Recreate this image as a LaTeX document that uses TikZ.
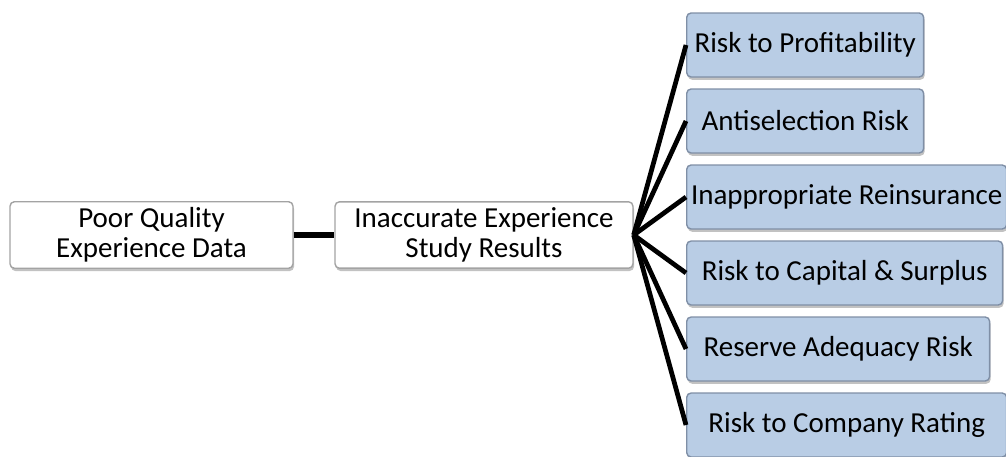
\documentclass[tikz,border=0pt]{standalone}
\usepackage{fontspec}
\setmainfont{Carlito}
\usepackage{tikz}
\usetikzlibrary{shadows,positioning}
\definecolor{BoxGray}{HTML}{A3A3A3}
\definecolor{RiskBlue}{HTML}{B9CDE5}
\definecolor{RiskEdge}{HTML}{7F8FA6}

\begin{document}
\begin{tikzpicture}[
      x=0.02cm, y=-0.02cm,
      font=\fontsize{16.5pt}{17.1pt}\selectfont,
      cause/.style={draw=BoxGray,fill=white,line width=0.8pt,rounded corners=2.5pt,
        minimum height=1.31cm,align=center,inner xsep=2pt,
        drop shadow={shadow xshift=0.6pt,shadow yshift=-1.6pt,opacity=0.4,fill=black!60}},
      risk/.style={draw=RiskEdge,fill=RiskBlue,line width=0.8pt,rounded corners=2.5pt,
        minimum height=1.28cm,align=center,anchor=west,inner xsep=2pt,
        drop shadow={shadow xshift=0.6pt,shadow yshift=-1.6pt,opacity=0.4,fill=black!60}},
      link/.style={line width=2.7pt,draw=black}
    ]
      \useasboundingbox (0,0) rectangle (1006,456);

      \node[cause,minimum width=5.66cm] (data) at (151.5,235) {Poor Quality\\Experience Data};
      \node[cause,minimum width=5.96cm] (study) at (484,235) {Inaccurate Experience\\Study Results};

      \node[risk,minimum width=4.74cm] (profit) at (686,45) {Risk to Profitability};
      \node[risk,minimum width=4.74cm] (antisel) at (686,121) {Antiselection Risk};
      \node[risk,minimum width=6.40cm] (reins) at (686,197) {Inappropriate Reinsurance};
      \node[risk,minimum width=6.32cm] (capital) at (686,273) {Risk to Capital \& Surplus};
      \node[risk,minimum width=6.06cm] (reserve) at (686,349) {Reserve Adequacy Risk};
      \node[risk,minimum width=6.40cm] (rating) at (686,425) {Risk to Company Rating};

      \draw[link,line width=3.2pt] (data) -- (study);
      \foreach \r in {profit,antisel,reins,capital,reserve,rating}
        \draw[link] (study.east) -- (\r.west);
    \end{tikzpicture}
\end{document}
